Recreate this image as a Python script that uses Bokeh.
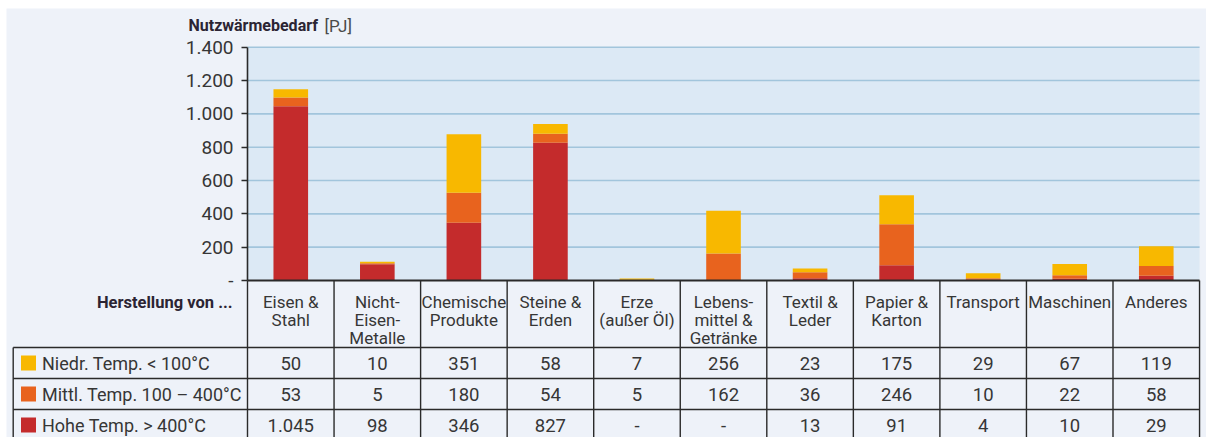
from bokeh.plotting import figure
from bokeh.models import Range1d, LinearAxis, FixedTicker, ColumnDataSource
from bokeh.core.properties import value
from bokeh.embed import file_html
from bokeh.resources import INLINE

# ---------------- data ----------------
categories = ["Eisen &\nStahl", "Nicht-\nEisen-\nMetalle", "Chemische\nProdukte",
              "Steine &\nErden", "Erze\n(außer Öl)", "Lebens-\nmittel &\nGetränke",
              "Textil &\nLeder", "Papier &\nKarton", "Transport", "Maschinen", "Anderes"]
niedr = [50, 10, 351, 58, 7, 256, 23, 175, 29, 67, 119]
mittl = [53, 5, 180, 54, 5, 162, 36, 246, 10, 22, 58]
hohe = [1045, 98, 346, 827, 0, 0, 13, 91, 4, 10, 29]
series_labels = ["Niedr. Temp. < 100°C", "Mittl. Temp. 100 – 400°C", "Hohe Temp. > 400°C"]
y_ticks = [0, 200, 400, 600, 800, 1000, 1200, 1400]
y_tick_labels = ["-", "200", "400", "600", "800", "1.000", "1.200", "1.400"]
title_bold = "Nutzwärmebedarf"
title_unit = "[PJ]"
row_header = "Herstellung von ..."

# ---------------- styles ----------------
C_LOW, C_MID, C_HIGH = "#f8b800", "#e8631e", "#c42b2c"
BG = "#eef2f9"
PLOT_BG = "#dce9f5"
GRID = "#a2c5dc"
LINE = "#2a2a2a"
TXT = "#363636"
FONT = value("Roboto")

# ---------------- layout (page pixels) ----------------
W, H = 1206, 437
PLOT_LEFT = 247.0             # page x of category 0 left edge
COL_PX = 86.55                # px per category
ZERO_Y = 280.0                # page y of value 0
U_PER_PX = 1400 / (280.0 - 46.7)

def dx(px):
    return (px - PLOT_LEFT) / COL_PX

def dy(py):
    return (ZERO_Y - py) * U_PER_PX

n = len(categories)
p = figure(width=W, height=H, output_backend="svg", toolbar_location=None,
           x_range=Range1d(dx(0), dx(W)), y_range=Range1d(dy(H), dy(0)),
           x_axis_location=None, y_axis_location=None, min_border=0,
           background_fill_color="white", border_fill_color="white",
           outline_line_color=None)
p.xgrid.visible = False
p.ygrid.visible = False

# panel background
p.quad(left=[dx(6)], right=[dx(W + 10)], bottom=[dy(H + 10)], top=[dy(8)],
       fill_color=BG, line_color=None)
# plot background
p.quad(left=[0], right=[n], bottom=[y_ticks[0]], top=[y_ticks[-1]],
       fill_color=PLOT_BG, line_color=None)
# grid lines
p.segment(x0=[0] * (len(y_ticks) - 1), x1=[n] * (len(y_ticks) - 1),
          y0=y_ticks[1:], y1=y_ticks[1:], line_color=GRID, line_width=1.6)

# bars
xs = [i + 0.5 for i in range(n)]
src = ColumnDataSource(dict(x=xs, hohe=hohe, mittl=mittl, niedr=niedr))
p.vbar_stack(["hohe", "mittl", "niedr"], x="x", width=0.40,
             color=[C_HIGH, C_MID, C_LOW], line_color=None, source=src)

# y axis
yaxis = LinearAxis(fixed_location=0, bounds=(y_ticks[0], y_ticks[-1]),
                   ticker=FixedTicker(ticks=y_ticks),
                   major_label_overrides={t: l for t, l in zip(y_ticks, y_tick_labels)})
yaxis.axis_line_color = LINE
yaxis.axis_line_width = 1.6
yaxis.major_tick_out = 6
yaxis.major_tick_in = 0
yaxis.major_tick_line_color = LINE
yaxis.major_tick_line_width = 1.6
yaxis.minor_tick_line_color = None
yaxis.major_label_text_font = "Roboto"
yaxis.major_label_text_font_size = "19px"
yaxis.major_label_text_color = TXT
yaxis.major_label_standoff = 8
p.add_layout(yaxis, "left")

# table geometry
header_bottom = 347.0
row_h = 31.0
row_lines = [header_bottom + k * row_h for k in range(4)]
table_left = 12.7
bottom_py = H + 20

# x axis line (top of table)
p.segment(x0=[0], x1=[n], y0=[0], y1=[0], line_color=LINE, line_width=2)
# vertical column lines
p.segment(x0=list(range(n + 1)), x1=list(range(n + 1)), y0=[0] * (n + 1),
          y1=[dy(bottom_py)] * (n + 1), line_color=LINE, line_width=1.4)
# left border of data rows
p.segment(x0=[dx(table_left)], x1=[dx(table_left)], y0=[dy(row_lines[0])],
          y1=[dy(bottom_py)], line_color=LINE, line_width=1.4)
# horizontal row lines
p.segment(x0=[dx(table_left)] * 3, x1=[n] * 3, y0=[dy(v) for v in row_lines[:3]],
          y1=[dy(v) for v in row_lines[:3]], line_color=LINE, line_width=1.4)

# category labels (header row)
p.text(x=xs, y=[dy(291)] * n, text=categories, text_font=FONT, text_font_size="17px",
       text_color=TXT, text_align="center", text_baseline="top", text_line_height=0.92)

# header label
p.text(x=[dx(232)], y=[dy(302)], text=[row_header], text_font=FONT, text_font_size="16.5px",
       text_font_style="bold", text_color="#2b2433", text_align="right",
       text_baseline="middle")

# title
p.text(x=[dx(188)], y=[dy(25)], text=[title_bold], text_font=FONT, text_font_size="16px",
       text_font_style="bold", text_color="#2b2433", text_align="left", text_baseline="middle")
p.text(x=[dx(324)], y=[dy(25)], text=[title_unit], text_font=FONT, text_font_size="17px",
       text_color="#4a4a4a", text_align="left", text_baseline="middle")

# data rows
def fmt(v):
    return "-" if v == 0 else f"{v:,}".replace(",", ".")

series = [niedr, mittl, hohe]
colors = [C_LOW, C_MID, C_HIGH]
for k, (vals, lab, col) in enumerate(zip(series, series_labels, colors)):
    cy = dy(row_lines[k] + row_h / 2)
    p.scatter(x=[dx(28)], y=[cy], marker="square", size=15, fill_color=col,
              line_color=None)
    p.text(x=[dx(41.5)], y=[cy], text=[lab], text_font=FONT, text_font_size="18px",
           text_color=TXT, text_align="left", text_baseline="middle")
    p.text(x=xs, y=[cy] * n, text=[fmt(v) for v in vals], text_font=FONT,
           text_font_size="18.5px", text_color=TXT, text_align="center",
           text_baseline="middle")

open("out.html", "w").write(file_html(p, INLINE))
